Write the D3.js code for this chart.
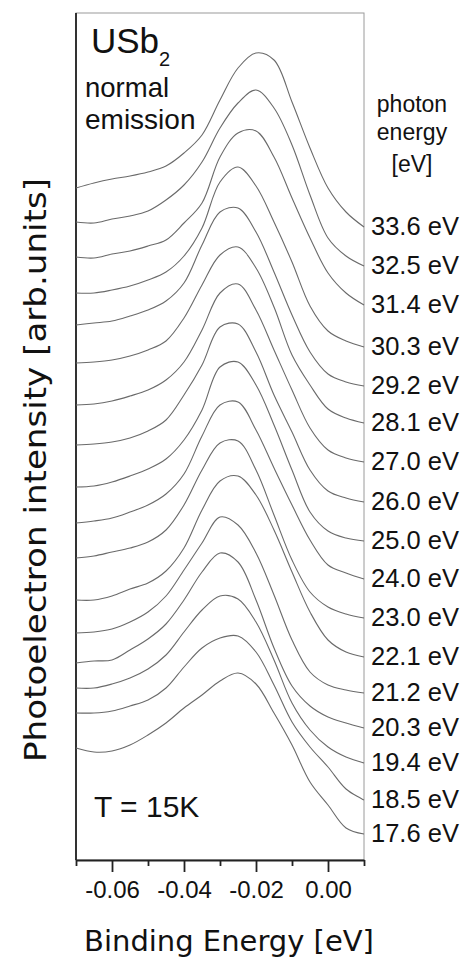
<!DOCTYPE html>
<html><head><meta charset="utf-8">
<script src="https://cdn.jsdelivr.net/npm/d3@7"></script>
<style>body{margin:0;background:#fff}</style>
</head><body>
<svg id="chart" width="465" height="959"></svg>
<script>
// Binding energy grid (eV)
const bindingEnergy = [-0.07,-0.065,-0.06,-0.055,-0.05,-0.045,-0.04,-0.035,-0.03,-0.025,-0.02,-0.015,-0.01,-0.005,0.0,0.005,0.01];
// Photon energies (eV), top to bottom
const photonEnergies = [33.6,32.5,31.4,30.3,29.2,28.1,27.0,26.0,25.0,24.0,23.0,22.1,21.2,20.3,19.4,18.5,17.6];
// Photoelectron intensity (arb. units, offset for clarity)
const spec336 = [672,677,681,684,688,694,707,725,760,792,807,800,758,712,672,648,633];
const spec325 = [638,637,641,644,649,660,675,698,732,757,770,752,715,665,622,604,594];
const spec314 = [603,602,606,609,614,620,637,657,703,727,729,703,662,622,587,567,555];
const spec303 = [567,567,570,574,580,588,604,632,678,693,674,638,598,554,529,519,513];
const spec292 = [535,537,539,544,550,559,577,615,648,652,628,588,545,508,486,478,474];
const spec281 = [497,498,500,504,510,519,542,575,605,613,592,553,505,475,451,442,437];
const spec270 = [455,456,459,464,470,480,498,530,567,576,550,510,470,432,410,402,398];
const spec260 = [415,416,418,422,429,440,465,495,533,536,508,465,428,390,369,362,358];
const spec250 = [373,374,378,384,391,401,420,450,493,498,475,435,390,348,329,322,319];
const spec240 = [337,339,342,348,355,366,386,424,455,458,430,392,355,320,295,287,281];
const spec230 = [302,304,308,312,318,330,355,390,417,419,390,345,300,268,253,246,242];
const spec221 = [260,260,264,271,277,289,312,350,379,384,365,330,288,248,220,208,203];
const spec212 = [227,228,231,238,248,264,290,317,343,335,307,265,220,188,175,170,167];
const spec203 = [197,199,200,210,221,236,260,288,307,298,260,212,174,154,143,137,132];
const spec194 = [172,172,176,182,191,205,228,250,264,261,238,200,157,130,113,103,97];
const spec185 = [147,147,149,154,160,172,193,212,222,224,208,175,138,113,93,71,60];
const spec176 = [112,108,109,115,125,137,152,165,179,187,176,147,115,78,55,32,26];
const spectra = [spec336,spec325,spec314,spec303,spec292,spec281,spec270,spec260,spec250,spec240,spec230,spec221,spec212,spec203,spec194,spec185,spec176];
const xMajorTicks = [-0.06,-0.04,-0.02,0.00];
const xMinorTicks = [-0.07,-0.05,-0.03,-0.01,0.01];

const svg = d3.select("#chart");
const L = 76, R = 364, T = 13, B = 860;
const x = d3.scaleLinear().domain([-0.07, 0.01]).range([L, R]);
const y = d3.scaleLinear().domain([0, 847]).range([B, T]);

// frame
svg.append("rect").attr("x", L).attr("y", T).attr("width", R - L).attr("height", B - T)
  .attr("fill", "none").attr("stroke", "#9a9a9a").attr("stroke-width", 1);
svg.append("line").attr("x1", L).attr("x2", L).attr("y1", T).attr("y2", B)
  .attr("stroke", "#222").attr("stroke-width", 1.8);

// spectra
const line = d3.line().x((d, i) => x(bindingEnergy[i])).y(d => y(d)).curve(d3.curveCatmullRom.alpha(0.5));
svg.append("g").selectAll("path").data(spectra).join("path")
  .attr("d", line).attr("fill", "none").attr("stroke", "#6a6a6a").attr("stroke-width", 1.1);

// labels
svg.append("g").selectAll("text").data(spectra).join("text")
  .attr("x", R + 7).attr("y", d => y(d[d.length - 1]) - 1).attr("dy", "0.35em")
  .attr("font-family", "Liberation Sans, Arial, sans-serif").attr("font-size", 25.5).attr("fill", "#111")
  .text((d, i) => photonEnergies[i].toFixed(1) + " eV");

// x axis
const fmt = d => d.toFixed(2);
const ax = svg.append("g").attr("transform", `translate(0,${B})`)
  .call(d3.axisBottom(x).tickValues(xMajorTicks).tickSize(12).tickSizeOuter(0).tickPadding(9).tickFormat(fmt));
ax.select(".domain").attr("stroke", "#222").attr("stroke-width", 1.8);
ax.selectAll(".tick line").attr("stroke", "#222").attr("stroke-width", 1.8);
ax.selectAll(".tick text").attr("font-family", "Liberation Sans, Arial, sans-serif").attr("font-size", 24).attr("fill", "#111");
const axm = svg.append("g").attr("transform", `translate(0,${B})`)
  .call(d3.axisBottom(x).tickValues(xMinorTicks).tickSize(6).tickSizeOuter(0).tickFormat(""));
axm.select(".domain").remove();
axm.selectAll(".tick line").attr("stroke", "#222").attr("stroke-width", 1.8);

// axis titles
svg.append("text").attr("x", 229).attr("y", 951).attr("text-anchor", "middle")
  .attr("font-family", "DejaVu Sans, sans-serif").attr("font-size", 29).attr("fill", "#111")
  .text("Binding Energy [eV]");
svg.append("text").attr("transform", "translate(46,470) rotate(-90)").attr("text-anchor", "middle")
  .attr("font-family", "DejaVu Sans, sans-serif").attr("font-size", 30).attr("fill", "#111")
  .attr("textLength", 584).attr("lengthAdjust", "spacingAndGlyphs")
  .text("Photoelectron intensity [arb.units]");

// annotations
const ann = svg.append("g").attr("font-family", "Liberation Sans, Arial, sans-serif").attr("fill", "#111");
const t1 = ann.append("text").attr("x", 91).attr("y", 53).attr("font-size", 35);
t1.append("tspan").text("USb");
t1.append("tspan").attr("font-size", 20).attr("dy", 13).text("2");
ann.append("text").attr("x", 85).attr("y", 97).attr("font-size", 27.5).text("normal");
ann.append("text").attr("x", 85).attr("y", 129).attr("font-size", 28).text("emission");
ann.append("text").attr("x", 94).attr("y", 817).attr("font-size", 30).text("T = 15K");
ann.append("text").attr("x", 412).attr("y", 112).attr("text-anchor", "middle").attr("font-size", 23).text("photon");
ann.append("text").attr("x", 412).attr("y", 140).attr("text-anchor", "middle").attr("font-size", 23).text("energy");
ann.append("text").attr("x", 412).attr("y", 172).attr("text-anchor", "middle").attr("font-size", 23).text("[eV]");
</script>
</body></html>
